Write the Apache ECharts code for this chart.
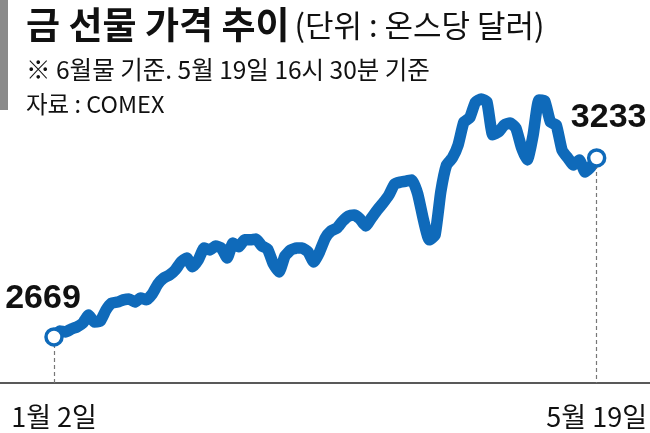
<!DOCTYPE html>
<html>
<head>
<meta charset="utf-8">
<script src="https://cdn.jsdelivr.net/npm/echarts@6/dist/echarts.min.js"></script>
<style>
html,body{margin:0;padding:0;background:#fff;}
#c{width:650px;height:433px;}
</style>
</head>
<body>
<div id="c"></div>
<script>
// Trading days, Jan 2 – May 19
var categories = [
 '1/2','1/3','1/6','1/7','1/8','1/9','1/10','1/13','1/14','1/15','1/16','1/17','1/21','1/22','1/23','1/24','1/27','1/28','1/29','1/30','1/31',
 '2/3','2/4','2/5','2/6','2/7','2/10','2/11','2/12','2/13','2/14','2/18','2/19','2/20','2/21','2/24','2/25','2/26','2/27','2/28',
 '3/3','3/4','3/5','3/6','3/7','3/10','3/11','3/12','3/13','3/14','3/17','3/18','3/19','3/20','3/21','3/24','3/25','3/26','3/27','3/28','3/31',
 '4/1','4/2','4/3','4/4','4/7','4/8','4/9','4/10','4/11','4/14','4/15','4/16','4/17','4/21','4/22','4/23','4/24','4/25','4/28','4/29','4/30',
 '5/1','5/2','5/5','5/6','5/7','5/8','5/9','5/12','5/13','5/14','5/15','5/16','5/19'
];
// Gold futures price (USD per ounce)
var prices = [
 2669,2688,2685,2694,2701,2713,2738,2716,2719,2754,2776,2779,2786,2789,2779,2792,2786,2804,2836,2855,2864,
 2880,2905,2918,2890,2912,2949,2943,2956,2949,2918,2965,2953,2975,2975,2978,2956,2946,2899,2874,
 2924,2943,2949,2949,2937,2905,2937,2981,3003,3012,3034,3050,3053,3041,3019,3044,3069,3091,3116,3151,3157,
 3160,3164,3120,3038,2975,2990,3126,3211,3233,3274,3346,3359,3409,3419,3409,3306,3315,3337,3343,3328,3265,
 3227,3306,3416,3413,3346,3337,3258,3233,3211,3227,3189,3205,3233
];
var tickLabels = ['1월 2일', '5월 19일'];
var titleMain = '금 선물 가격 추이';
var titleUnit = '(단위 : 온스당 달러)';
var noteText = '※ 6월물 기준. 5월 19일 16시 30분 기준';
var sourceText = '자료 : COMEX';
var yMin = 2524, yMax = 3548;

var BLUE = '#0f6aba';
var KR = "'Noto Sans CJK KR', sans-serif";
var NUM = "'Liberation Sans Narrow', 'Liberation Sans', sans-serif";

var lastIdx = prices.length - 1;
var chart = echarts.init(document.getElementById('c'), null, {renderer: 'canvas'});
chart.setOption({
  animation: false,
  backgroundColor: '#fff',
  title: [
    {
      left: 21, top: -2,
      text: '{a|' + titleMain + '} {b|' + titleUnit + '}',
      textStyle: {
        rich: {
          a: {fontFamily: KR, fontWeight: 'bold', fontSize: 37, color: '#111', lineHeight: 44},
          b: {fontFamily: KR, fontWeight: 'normal', fontSize: 31, color: '#111', lineHeight: 44}
        }
      }
    },
    {left: 21, top: 50, text: noteText,
     textStyle: {fontFamily: KR, fontWeight: 'normal', fontSize: 24.5, color: '#111', lineHeight: 30}},
    {left: 21, top: 84, text: sourceText,
     textStyle: {fontFamily: KR, fontWeight: 'normal', fontSize: 23.5, color: '#111', lineHeight: 30}}
  ],
  graphic: [
    {type: 'rect', left: 0, top: 0, shape: {width: 8, height: 110}, style: {fill: '#8a8a8a'}},
    {type: 'line', shape: {x1: 0, y1: 383, x2: 650, y2: 383}, style: {stroke: '#222', lineWidth: 1.5}}
  ],
  grid: {left: 54, right: 52, top: 58, bottom: 50, containLabel: false},
  xAxis: {
    type: 'category',
    data: categories,
    boundaryGap: false,
    axisLine: {show: false},
    axisTick: {show: false},
    splitLine: {show: false},
    axisLabel: {
      interval: function (i) { return i === 0 || i === lastIdx; },
      margin: 20,
      fontFamily: KR, fontSize: 27, color: '#111',
      formatter: function (v, i) { return i === 0 ? tickLabels[0] : tickLabels[1]; }
    }
  },
  yAxis: {
    type: 'value', min: yMin, max: yMax,
    show: false, splitLine: {show: false}
  },
  series: [
    {
      type: 'line',
      data: prices,
      showSymbol: false,
      smooth: 0.15,
      lineStyle: {color: BLUE, width: 11.5, join: 'round', cap: 'round'},
      z: 3,
      markLine: {
        silent: true,
        symbol: ['none', 'none'],
        label: {show: false},
        lineStyle: {color: '#777', width: 1.2, type: [4, 3]},
        data: [
          [{coord: [0, prices[0]]}, {coord: [0, yMin]}],
          [{coord: [lastIdx, prices[lastIdx]]}, {coord: [lastIdx, yMin]}]
        ]
      }
    },
    {
      type: 'scatter',
      z: 5,
      symbol: 'circle',
      symbolSize: 16,
      itemStyle: {color: '#fff', borderColor: BLUE, borderWidth: 3.5, opacity: 1},
      data: [
        {value: [0, prices[0]], label: {offset: [-11, -7]}},
        {value: [lastIdx, prices[lastIdx]], label: {offset: [12, -9]}}
      ],
      label: {
        show: true, position: 'top',
        formatter: function (p) { return String(p.value[1]); },
        fontFamily: NUM, fontWeight: 'bold', fontSize: 34, color: '#111', opacity: 1
      }
    }
  ]
});
</script>
</body>
</html>
